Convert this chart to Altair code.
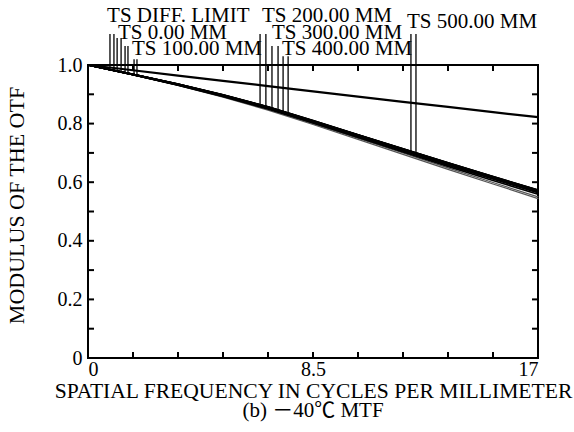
import altair as alt
import pandas as pd

# Spatial frequency samples (cycles/mm)
freq = [0.0, 1.7, 3.4, 5.1, 6.8, 8.5, 10.2, 11.9, 13.6, 15.3, 17.0]

# Diffraction-limited MTF
diff_limit = [1.000, 0.982, 0.964, 0.946, 0.928, 0.910, 0.892, 0.874, 0.857, 0.839, 0.822]

# Field-point MTF curves (tangential / sagittal)
ts0_t = [1.000, 0.968, 0.935, 0.898, 0.857, 0.810, 0.762, 0.714, 0.666, 0.619, 0.573]
ts0_s = [1.000, 0.968, 0.935, 0.898, 0.857, 0.810, 0.762, 0.714, 0.666, 0.619, 0.573]
ts100_t = [1.000, 0.968, 0.934, 0.897, 0.856, 0.809, 0.761, 0.712, 0.664, 0.617, 0.571]
ts100_s = [1.000, 0.968, 0.935, 0.897, 0.856, 0.809, 0.761, 0.713, 0.665, 0.618, 0.572]
ts200_t = [1.000, 0.967, 0.933, 0.896, 0.854, 0.807, 0.758, 0.710, 0.661, 0.614, 0.568]
ts200_s = [1.000, 0.968, 0.934, 0.896, 0.855, 0.808, 0.760, 0.711, 0.663, 0.616, 0.570]
ts300_t = [1.000, 0.967, 0.932, 0.894, 0.852, 0.805, 0.756, 0.707, 0.658, 0.611, 0.564]
ts300_s = [1.000, 0.968, 0.933, 0.896, 0.854, 0.807, 0.759, 0.710, 0.662, 0.615, 0.568]
ts400_t = [1.000, 0.967, 0.931, 0.893, 0.850, 0.802, 0.753, 0.703, 0.654, 0.606, 0.559]
ts400_s = [1.000, 0.967, 0.933, 0.895, 0.853, 0.806, 0.758, 0.709, 0.660, 0.613, 0.566]
ts500_t = [1.000, 0.966, 0.930, 0.890, 0.846, 0.797, 0.746, 0.695, 0.644, 0.594, 0.544]
ts500_s = [1.000, 0.966, 0.931, 0.892, 0.849, 0.800, 0.750, 0.700, 0.649, 0.599, 0.550]

series = {
    "TS 500.00 MM T": (ts500_t, "faint"),
    "TS 500.00 MM S": (ts500_s, "faint"),
    "TS 0.00 MM T": (ts0_t, "field"),
    "TS 0.00 MM S": (ts0_s, "field"),
    "TS 100.00 MM T": (ts100_t, "field"),
    "TS 100.00 MM S": (ts100_s, "field"),
    "TS 200.00 MM T": (ts200_t, "field"),
    "TS 200.00 MM S": (ts200_s, "field"),
    "TS 300.00 MM T": (ts300_t, "field"),
    "TS 300.00 MM S": (ts300_s, "field"),
    "TS 400.00 MM T": (ts400_t, "field"),
    "TS 400.00 MM S": (ts400_s, "field"),
    "TS DIFF. LIMIT": (diff_limit, "diff"),
}

# Leader lines from each legend label down to its curve
leader_x = [0.83, 0.98, 1.10, 1.25, 1.40, 1.51, 1.74, 1.85,
            6.50, 6.72, 6.95, 7.18, 7.37, 7.56, 12.20, 12.39]
leader_top = [1.106, 1.106, 1.092, 1.092, 1.065, 1.065, 1.020, 1.020,
              1.106, 1.106, 1.065, 1.065, 1.030, 1.030, 1.106, 1.106]
leader_bottom = [0.990, 0.988, 0.978, 0.975, 0.972, 0.970, 0.965, 0.962,
                 0.863, 0.857, 0.853, 0.846, 0.840, 0.836, 0.700, 0.697]

# Legend labels
label_text = ["TS DIFF. LIMIT", "TS 200.00 MM", "TS 0.00 MM", "TS 300.00 MM",
              "TS 100.00 MM", "TS 400.00 MM", "TS 500.00 MM"]
label_x = [0.72, 6.57, 1.13, 6.95, 1.66, 7.33, 12.05]
label_y = [1.147, 1.147, 1.089, 1.089, 1.034, 1.034, 1.126]

y_minor = [0.1, 0.2, 0.3, 0.4, 0.5, 0.6, 0.7, 0.8, 0.9]
x_minor = [1.7, 3.4, 5.1, 6.8, 8.5, 10.2, 11.9, 13.6, 15.3]

FONT = "Liberation Serif, Times New Roman, Noto Sans CJK SC, serif"
W, H = 450, 293

rows = []
order = 0
for name, (vals, style) in series.items():
    for f, v in zip(freq, vals):
        rows.append({"freq": f, "mtf": v, "series": name, "style": style, "ord": order})
    order += 1
curves = pd.DataFrame(rows)

xs = alt.Scale(domain=[0, 17], nice=False, zero=False)
ys = alt.Scale(domain=[0, 1], nice=False)

lines = alt.Chart(curves).mark_line(strokeCap="round").encode(
    x=alt.X("freq:Q", scale=xs, axis=alt.Axis(
        values=[0, 8.5, 17], format="~g", grid=False, ticks=False, tickSize=0, domain=False,
        labelFont=FONT, labelFontSize=20, labelColor="black", labelPadding=1,
        title="SPATIAL FREQUENCY IN CYCLES PER MILLIMETER", titleFont=FONT,
        titleFontSize=21.6, titleFontWeight="normal", titleColor="black",
        titleBaseline="alphabetic", titleY=39, titleX=W / 2, titleAnchor="middle")),
    y=alt.Y("mtf:Q", scale=ys, axis=alt.Axis(
        values=[0, 0.2, 0.4, 0.6, 0.8, 1.0],
        labelExpr="datum.value == 0 ? '0' : format(datum.value, '.1f')",
        grid=False, ticks=False, tickSize=0, domain=False,
        labelFont=FONT, labelFontSize=20, labelColor="black", labelPadding=6,
        title="MODULUS OF THE OTF", titleFont=FONT, titleFontSize=22,
        titleFontWeight="normal", titleColor="black", titleAngle=-90,
        titleAlign="center", titleBaseline="alphabetic", titleX=-65, titleY=140)),
    detail="series:N",
    order="ord:Q",
    color=alt.Color("style:N", scale=alt.Scale(domain=["faint", "field", "diff"],
                                               range=["#555555", "#000000", "#000000"]),
                    legend=None),
    strokeWidth=alt.StrokeWidth("style:N", scale=alt.Scale(domain=["faint", "field", "diff"],
                                                           range=[1.2, 2.2, 2.0]),
                                legend=None),
)

leaders = alt.Chart(pd.DataFrame({"x": leader_x, "top": leader_top, "bottom": leader_bottom})
                    ).mark_rule(color="black", strokeWidth=1.3).encode(
    x=alt.X("x:Q", scale=xs), y=alt.Y("top:Q", scale=ys), y2="bottom:Q")

labels = alt.Chart(pd.DataFrame({"t": label_text, "x": label_x, "y": label_y})).mark_text(
    align="left", baseline="alphabetic", font=FONT, fontSize=21, color="black").encode(
    x=alt.X("x:Q", scale=xs), y=alt.Y("y:Q", scale=ys), text="t:N")

ydf = pd.DataFrame({"v": y_minor})
xdf = pd.DataFrame({"v": x_minor})
tick_l = alt.Chart(ydf).mark_rule(color="black", strokeWidth=2).encode(
    y=alt.Y("v:Q", scale=ys), x=alt.value(0), x2=alt.value(6))
tick_r = alt.Chart(ydf).mark_rule(color="black", strokeWidth=2).encode(
    y=alt.Y("v:Q", scale=ys), x=alt.value(W - 6), x2=alt.value(W))
tick_b = alt.Chart(xdf).mark_rule(color="black", strokeWidth=2).encode(
    x=alt.X("v:Q", scale=xs), y=alt.value(H - 6), y2=alt.value(H))
tick_t = alt.Chart(xdf).mark_rule(color="black", strokeWidth=2).encode(
    x=alt.X("v:Q", scale=xs), y=alt.value(0), y2=alt.value(6))

caption = alt.Chart(pd.DataFrame({"t": ["(b) －40℃ MTF"]})).mark_text(
    align="center", baseline="alphabetic", font=FONT, fontSize=21, color="black").encode(
    text="t:N", x=alt.value(W / 2), y=alt.value(352))

chart = alt.layer(lines, tick_l, tick_r, tick_b, tick_t, leaders, labels, caption).properties(
    width=W, height=H,
    autosize=alt.AutoSizeParams(type="none"),
    padding={"left": 88, "top": 65, "right": 36, "bottom": 74},
    background="white",
).configure_view(stroke="black", strokeWidth=2)

chart.save("out.html", embed_options={"renderer": "svg", "actions": False})
